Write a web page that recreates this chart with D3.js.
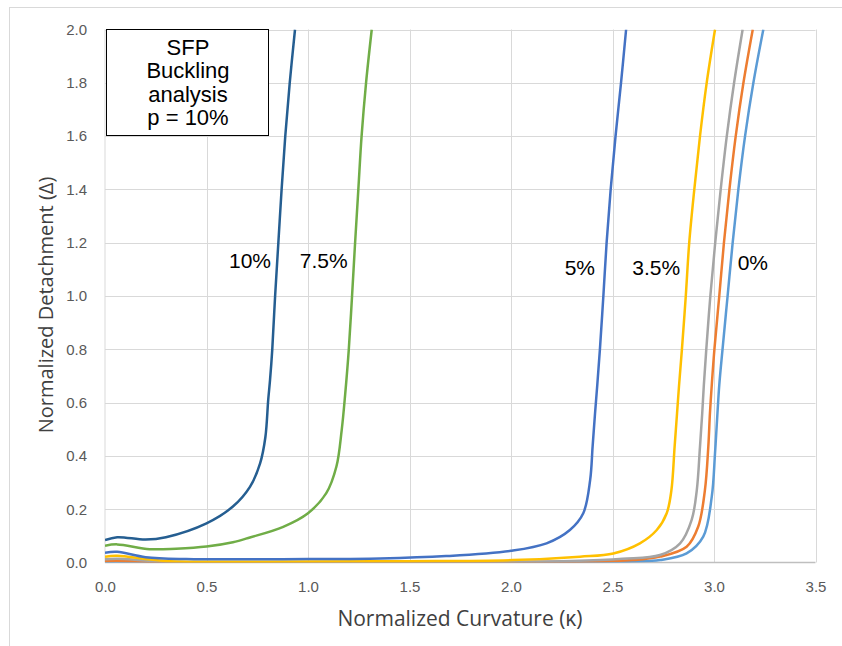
<!DOCTYPE html>
<meta charset="utf-8">
<style>
    body { margin: 0; background: #fff; }
    .grid line { stroke: #d9d9d9; stroke-width: 1px; }
    .tick text { font-family: "Liberation Sans", Arial, sans-serif; font-size: 15px; fill: #595959; }
    .curve { fill: none; stroke-width: 2.5px; }
    .lbl { font-family: "Liberation Sans", Arial, sans-serif; font-size: 21px; fill: #000; }
    .box { font-family: "Liberation Sans", Arial, sans-serif; font-size: 22px; fill: #000; }
    .title { font-family: "Open Sans", sans-serif; font-size: 21px; fill: #404040; }
</style>
<svg id="chart" width="842" height="646"></svg>
<script src="https://cdnjs.cloudflare.com/ajax/libs/d3/7.8.5/d3.min.js"></script>
<script>

    // [kappa, delta] pairs
    var s0 = [[0,0.003],[0.3,0.001],[2.3,0.001],[2.6,0.004],[2.734,0.009],[2.865,0.034],[2.947,0.097],[2.989,0.247],[3.005,0.41],[3.017,0.56],[3.026,0.666],[3.042,0.8],[3.067,1.0],[3.092,1.2],[3.12,1.4],[3.153,1.6],[3.194,1.8],[3.243,2.0]];
    var s1 = [[0,0.006],[0.06,0.007],[0.3,0.001],[2.3,0.003],[2.6,0.009],[2.734,0.022],[2.865,0.059],[2.922,0.134],[2.955,0.27],[2.972,0.435],[2.98,0.56],[2.989,0.666],[3.002,0.8],[3.026,1.0],[3.049,1.2],[3.076,1.4],[3.107,1.6],[3.145,1.8],[3.191,2.0]];
    var s2 = [[0,0.012],[0.06,0.014],[0.3,0.003],[1.5,0.002],[2.3,0.006],[2.55,0.014],[2.734,0.028],[2.833,0.072],[2.89,0.16],[2.915,0.27],[2.931,0.435],[2.942,0.56],[2.95,0.666],[2.962,0.8],[2.982,1.0],[3.006,1.2],[3.033,1.4],[3.063,1.6],[3.099,1.8],[3.141,2.0]];
    var s35 = [[0,0.022],[0.06,0.025],[0.3,0.006],[1.0,0.004],[1.5,0.005],[2.01,0.009],[2.34,0.022],[2.504,0.034],[2.635,0.072],[2.718,0.122],[2.767,0.185],[2.79,0.27],[2.806,0.435],[2.818,0.56],[2.828,0.666],[2.842,0.8],[2.861,1.0],[2.878,1.2],[2.903,1.4],[2.931,1.6],[2.964,1.8],[3.005,2.0]];
    var s5 = [[0,0.037],[0.06,0.04],[0.2,0.02],[0.4,0.013],[1.0,0.013],[1.355,0.015],[1.68,0.024],[2.0,0.044],[2.175,0.072],[2.29,0.122],[2.356,0.185],[2.39,0.31],[2.402,0.435],[2.414,0.56],[2.425,0.666],[2.438,0.8],[2.455,1.0],[2.471,1.2],[2.491,1.4],[2.515,1.6],[2.542,1.8],[2.567,2.0]];
    var s75 = [[0,0.063],[0.06,0.068],[0.22,0.05],[0.35,0.052],[0.5,0.06],[0.63,0.076],[0.714,0.094],[0.878,0.134],[1.0,0.185],[1.09,0.26],[1.14,0.36],[1.166,0.497],[1.183,0.63],[1.201,0.8],[1.217,1.0],[1.232,1.2],[1.248,1.4],[1.264,1.6],[1.286,1.8],[1.314,2.0]];
    var s10 = [[0,0.084],[0.06,0.095],[0.2,0.086],[0.3,0.095],[0.5,0.147],[0.63,0.21],[0.714,0.284],[0.764,0.372],[0.79,0.47],[0.804,0.61],[0.813,0.685],[0.824,0.8],[0.838,1.0],[0.854,1.2],[0.87,1.4],[0.888,1.6],[0.91,1.8],[0.936,2.0]];

    var series = [s0, s1, s2, s35, s5, s75, s10];
    var colors = ["#5b9bd5", "#ed7d31", "#a5a5a5", "#ffc000", "#4472c4", "#70ad47", "#255e91"];

    var labels = ["10%", "7.5%", "5%", "3.5%", "0%"];
    var labelPos = [[0.818, 1.105], [1.195, 1.105], [2.414, 1.079], [2.833, 1.079], [3.266, 1.098]];

    var xTicks = [0, 0.5, 1, 1.5, 2, 2.5, 3, 3.5];
    var yTicks = [0, 0.2, 0.4, 0.6, 0.8, 1.0, 1.2, 1.4, 1.6, 1.8, 2.0];
    var boxLines = ["SFP", "Buckling", "analysis", "p = 10%"];

    var svg = d3.select("#chart");

    var x = d3.scaleLinear().domain([0, 3.5]).range([105, 815.5]);
    var y = d3.scaleLinear().domain([0, 2]).range([562.5, 29.5]);

    // outer chart border
    svg.append("rect")
        .attr("x", 9.5).attr("y", 7.5)
        .attr("width", 845).attr("height", 645)
        .attr("fill", "none")
        .attr("stroke", "#d9d9d9");

    var grid = svg.append("g").attr("class", "grid");
    grid.selectAll("line.v").data(xTicks.slice(1)).enter().append("line")
        .attr("x1", d => Math.round(x(d)) + 0.5).attr("x2", d => Math.round(x(d)) + 0.5)
        .attr("y1", y(2)).attr("y2", y(0));
    grid.selectAll("line.h").data(yTicks.slice(1)).enter().append("line")
        .attr("y1", d => Math.round(y(d)) + 0.5).attr("y2", d => Math.round(y(d)) + 0.5)
        .attr("x1", x(0)).attr("x2", x(3.5));

    // axes (labels only, Excel style)
    var xAxis = svg.append("g")
        .attr("transform", "translate(0," + y(0) + ")")
        .call(d3.axisBottom(x).tickValues(xTicks).tickFormat(d3.format(".1f")).tickSize(0).tickPadding(19));
    xAxis.select(".domain").remove();

    var yAxis = svg.append("g")
        .attr("transform", "translate(" + x(0) + ",0)")
        .call(d3.axisLeft(y).tickValues(yTicks).tickFormat(d3.format(".1f")).tickSize(0).tickPadding(18));
    yAxis.select(".domain").remove();

    svg.append("line")
        .attr("x1", x(0)).attr("x2", x(3.5))
        .attr("y1", y(0)).attr("y2", y(0))
        .attr("stroke", "#bfbfbf").attr("stroke-width", 1.5);
    svg.append("line")
        .attr("x1", x(0)).attr("x2", x(0))
        .attr("y1", y(0)).attr("y2", y(2))
        .attr("stroke", "#d9d9d9").attr("stroke-width", 1);

    svg.append("clipPath").attr("id", "clip")
        .append("rect")
        .attr("x", x(0)).attr("y", y(2))
        .attr("width", x(3.5) - x(0)).attr("height", y(0) - y(2));

    var line = d3.line()
        .x(d => x(d[0]))
        .y(d => y(d[1]))
        .curve(d3.curveCatmullRom.alpha(0.5));

    svg.append("g").attr("clip-path", "url(#clip)")
        .selectAll("path")
        .data(series)
        .enter().append("path")
        .attr("class", "curve")
        .attr("stroke", (d, i) => colors[i])
        .attr("d", line);

    svg.selectAll("text.lbl")
        .data(labels)
        .enter().append("text")
        .attr("class", "lbl")
        .attr("text-anchor", "end")
        .attr("x", (d, i) => x(labelPos[i][0]))
        .attr("y", (d, i) => y(labelPos[i][1]))
        .text(d => d);

    // annotation box
    svg.append("rect")
        .attr("x", 106.5).attr("y", 29.5)
        .attr("width", 162).attr("height", 106)
        .attr("fill", "#fff")
        .attr("stroke", "#000").attr("stroke-width", 1);
    svg.selectAll("text.box")
        .data(boxLines)
        .enter().append("text")
        .attr("class", "box")
        .attr("text-anchor", "middle")
        .attr("x", 188)
        .attr("y", (d, i) => 55 + i * 23.4)
        .text(d => d);

    svg.append("text")
        .attr("class", "title")
        .attr("text-anchor", "middle")
        .attr("x", 460).attr("y", 626)
        .text("Normalized Curvature (κ)");

    svg.append("text")
        .attr("class", "title")
        .attr("text-anchor", "middle")
        .style("font-size", "20px")
        .attr("transform", "translate(53,305) rotate(-90)")
        .text("Normalized Detachment (Δ)");

</script>
